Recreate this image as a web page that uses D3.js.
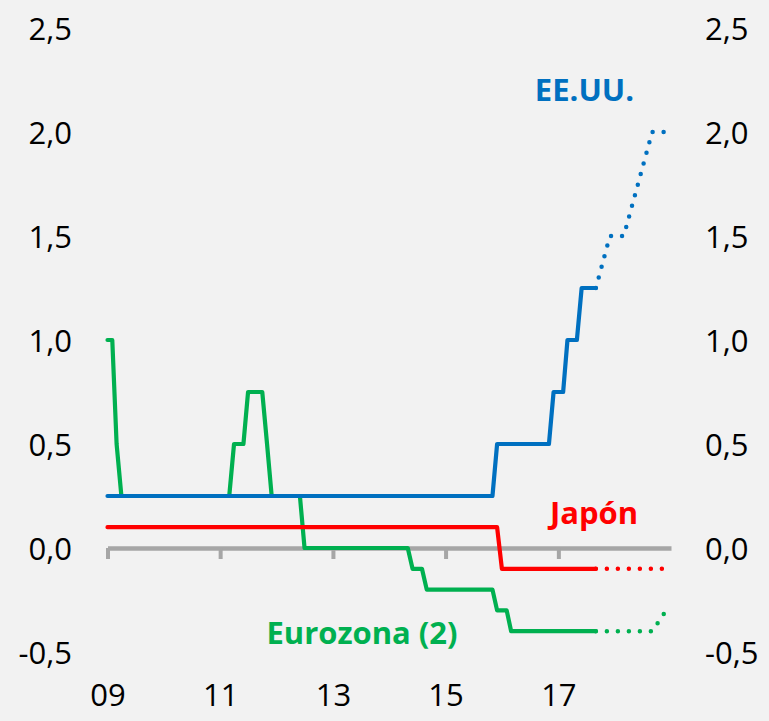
<!DOCTYPE html>
<html>
<head>
<meta charset="utf-8">
<script src="https://cdn.jsdelivr.net/npm/d3@7"></script>
<style>
  html, body { margin: 0; padding: 0; background: #f2f2f2; }
  svg { display: block; }
</style>
</head>
<body>
<svg id="chart"></svg>
<script>
var width = 769;
var height = 721;

// tipos de interés oficiales (%), vértices mensuales [mes, valor]
var usaActual = [
  ["2009-01", 0.25], ["2015-11", 0.25], ["2015-12", 0.5], ["2016-11", 0.5],
  ["2016-12", 0.75], ["2017-02", 0.75], ["2017-03", 1.0], ["2017-05", 1.0],
  ["2017-06", 1.25], ["2017-09", 1.25]
];
var usaForecast = [
  ["2017-09", 1.25], ["2017-12", 1.5], ["2018-03", 1.5], ["2018-06", 1.75],
  ["2018-09", 2.0], ["2018-12", 2.0]
];
var japanActual = [
  ["2009-01", 0.1], ["2015-12", 0.1], ["2016-01", -0.1], ["2017-09", -0.1]
];
var japanForecast = [
  ["2017-09", -0.1], ["2018-12", -0.1]
];
var euroActual = [
  ["2009-01", 1.0], ["2009-02", 1.0], ["2009-03", 0.5], ["2009-04", 0.25],
  ["2011-03", 0.25], ["2011-04", 0.5], ["2011-06", 0.5], ["2011-07", 0.75],
  ["2011-10", 0.75], ["2011-11", 0.5], ["2011-12", 0.25], ["2012-06", 0.25],
  ["2012-07", 0.0], ["2014-05", 0.0], ["2014-06", -0.1], ["2014-08", -0.1],
  ["2014-09", -0.2], ["2015-11", -0.2], ["2015-12", -0.3], ["2016-02", -0.3],
  ["2016-03", -0.4], ["2017-09", -0.4]
];
var euroForecast = [
  ["2017-09", -0.4], ["2018-09", -0.4], ["2018-12", -0.3]
];

var xTicks = ["2009-01", "2011-01", "2013-01", "2015-01", "2017-01"];
var yTicks = [-0.5, 0, 0.5, 1.0, 1.5, 2.0, 2.5];

var parseMonth = d3.timeParse("%Y-%m");
var esLocale = d3.formatLocale({ decimal: ",", thousands: ".", grouping: [3], currency: ["", "€"], minus: "-" });
var fmt = esLocale.format(".1f");

var blue = "#0070c0", red = "#ff0000", green = "#00b050", grey = "#a6a6a6";
var font = "'Open Sans', sans-serif";

var x = d3.scaleTime()
  .domain([parseMonth("2009-01"), parseMonth("2019-01")])
  .range([107.5, 671]);

var y = d3.scaleLinear()
  .domain([-0.5, 2.5])
  .range([652, 28]);

var svg = d3.select("#chart")
  .attr("width", width)
  .attr("height", height);

svg.append("rect")
  .attr("width", width)
  .attr("height", height)
  .attr("fill", "#f2f2f2");

// ====================================================
// Ejes
// ====================================================
var yLeft = svg.append("g")
  .attr("transform", "translate(72,0)")
  .call(d3.axisLeft(y).tickValues(yTicks).tickSize(0).tickPadding(0).tickFormat(fmt));

var yRight = svg.append("g")
  .attr("transform", "translate(705,0)")
  .call(d3.axisRight(y).tickValues(yTicks).tickSize(0).tickPadding(0).tickFormat(fmt));

[yLeft, yRight].forEach(function (g) {
  g.select(".domain").remove();
  g.selectAll("text")
    .attr("dy", "0.36em")
    .style("font-family", font)
    .style("font-size", "31px")
    .style("fill", "#000");
});

var xAxis = svg.append("g")
  .attr("transform", "translate(0," + y(0) + ")")
  .call(d3.axisBottom(x)
    .tickValues(xTicks.map(parseMonth))
    .tickSizeInner(11)
    .tickSizeOuter(0)
    .tickPadding(125)
    .tickFormat(d3.timeFormat("%y")));

xAxis.select(".domain")
  .attr("stroke", grey)
  .attr("stroke-width", 4.5);
xAxis.selectAll(".tick line")
  .attr("stroke", grey)
  .attr("stroke-width", 4);
xAxis.selectAll("text")
  .style("font-family", font)
  .style("font-size", "31px")
  .style("fill", "#000");

// ====================================================
// Series
// ====================================================
var line = d3.line()
  .x(function (d) { return x(parseMonth(d[0])); })
  .y(function (d) { return y(d[1]); });

var series = [
  { data: euroActual, color: green, dotted: false },
  { data: euroForecast, color: green, dotted: true },
  { data: japanActual, color: red, dotted: false },
  { data: japanForecast, color: red, dotted: true },
  { data: usaActual, color: blue, dotted: false },
  { data: usaForecast, color: blue, dotted: true }
];

svg.append("g")
  .attr("fill", "none")
  .attr("stroke-linecap", "round")
  .attr("stroke-linejoin", "round")
  .selectAll("path")
  .data(series)
  .join("path")
  .attr("d", function (d) { return line(d.data); })
  .attr("stroke", function (d) { return d.color; })
  .attr("stroke-width", function (d) { return d.dotted ? 4.5 : 4.2; })
  .attr("stroke-dasharray", function (d) { return d.dotted ? "0 11" : null; });

// ====================================================
// Etiquetas
// ====================================================
var labels = [
  { text: "EE.UU.", color: blue, x: 584.5, y: 101 },
  { text: "Japón", color: red, x: 594, y: 524 },
  { text: "Eurozona (2)", color: green, x: 362, y: 644 }
];

svg.append("g")
  .selectAll("text")
  .data(labels)
  .join("text")
  .attr("x", function (d) { return d.x; })
  .attr("y", function (d) { return d.y; })
  .attr("text-anchor", "middle")
  .style("font-family", font)
  .style("font-weight", "bold")
  .style("font-size", "31px")
  .style("fill", function (d) { return d.color; })
  .text(function (d) { return d.text; });
</script>
</body>
</html>
